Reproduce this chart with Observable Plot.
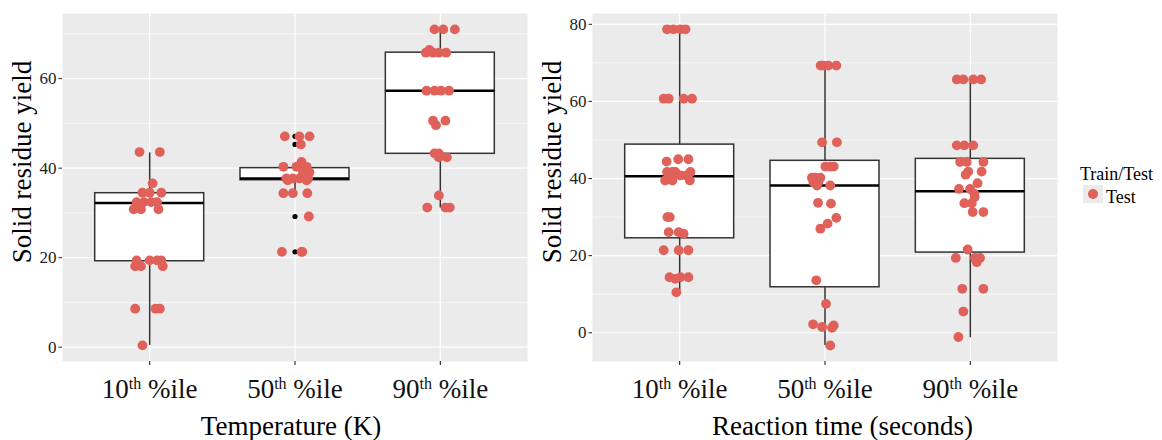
<!DOCTYPE html>
<html><head><meta charset="utf-8">
<script src="https://cdn.jsdelivr.net/npm/d3@7"></script>
<script src="https://cdn.jsdelivr.net/npm/@observablehq/plot@0.6"></script>
<style>
body{margin:0;background:#fff;}
#wrap{position:relative;width:1162px;height:440px;overflow:hidden;font-family:"Liberation Serif","Times New Roman",serif;color:#000;background:#fff;}
#wrap svg text{font-family:"Liberation Serif","Times New Roman",serif;}
.abs{position:absolute;white-space:nowrap;}
</style></head><body><div id="wrap"></div>
<script>
// ---------- DATA ----------
const categories = ["10th %ile", "50th %ile", "90th %ile"];
const yTitle = "Solid residue yield";
const xTitleTemp = "Temperature (K)";
const xTitleTime = "Reaction time (seconds)";
const legendTitle = "Train/Test";
const legendLabel = "Test";

// Temperature panel: test points (category index, horizontal jitter in category units, yield)
const tempCat = [0,0,0,0,0,0,0,0,0,0,0,0,0,0,0,0,0,0,0,0,0,0,0,0,
  1,1,1,1,1,1,1,1,1,1,1,1,1,1,1,1,1,1,1,1,1,1,1,
  2,2,2,2,2,2,2,2,2,2,2,2,2,2,2,2,2,2,2,2,2,2,2];
const tempJit = [-0.07,0.07,0.02,-0.05,0.0,0.08,-0.09,-0.04,0.01,0.05,-0.11,-0.06,0.06,-0.09,0.0,0.05,0.08,-0.1,-0.06,0.09,-0.1,0.04,0.07,-0.05,
  -0.07,0.03,0.10,0.04,0.045,-0.08,0.01,0.08,0.055,0.10,-0.06,-0.015,0.03,0.09,-0.05,0.08,-0.08,-0.015,0.085,0.095,-0.09,0.045,0.05,
  -0.04,0.02,0.10,-0.075,-0.1,-0.05,-0.01,0.04,-0.095,-0.04,0.005,0.06,-0.05,0.035,-0.03,-0.04,-0.01,-0.01,0.045,-0.01,-0.09,0.035,0.065];
const tempYield = [43.6,43.6,36.6,34.5,34.5,34.5,32.4,32.4,32.4,32.4,30.8,30.8,30.8,19.4,19.4,19.4,19.4,18.1,18.1,18.1,8.6,8.6,8.6,0.4,
  47.1,47.1,47.1,45.3,41.4,40.3,40.3,40.3,39.1,39.1,37.7,37.7,37.7,37.7,37.3,37.3,34.4,34.4,34.4,29.2,21.3,21.3,21.3,
  71.0,71.0,71.0,66.4,65.8,65.8,65.8,65.8,57.3,57.3,57.3,57.3,50.6,50.6,49.6,43.3,43.3,42.4,42.4,33.9,31.2,31.2,31.2];
// Temperature boxplot statistics
const tempLo  = [0.4, 35.0, 31.1];
const tempQ1  = [19.2, 37.3, 43.2];
const tempMed = [32.2, 37.7, 57.3];
const tempQ3  = [34.4, 40.0, 65.8];
const tempHi  = [43.4, 40.0, 71.0];
const tempOutCat = [1, 1, 1, 1];
const tempOutVal = [47.1, 45.3, 29.2, 21.3];

// Reaction-time panel
const timeCat = [0,0,0,0,0,0,0,0,0,0,0,0,0,0,0,0,0,0,0,0,0,0,0,0,0,0,0,0,0,0,0,0,0,0,
  1,1,1,1,1,1,1,1,1,1,1,1,1,1,1,1,1,1,1,1,1,1,1,1,1,1,1,1,
  2,2,2,2,2,2,2,2,2,2,2,2,2,2,2,2,2,2,2,2,2,2,2,2,2,2,2,2,2,2,2];
const timeJit = [-0.087,-0.043,0.005,0.04,-0.11,-0.076,0.027,0.085,-0.09,-0.01,0.06,-0.087,-0.05,-0.03,0.074,-0.065,0.005,0.045,-0.1,-0.05,0.07,-0.085,-0.068,-0.076,-0.007,0.027,-0.11,-0.007,0.06,-0.07,0.005,0.06,-0.03,-0.023,
  -0.03,-0.012,0.023,0.078,-0.02,0.082,0.002,0.036,0.06,-0.09,-0.067,-0.032,-0.08,-0.046,-0.055,0.036,-0.048,0.041,0.078,0.018,-0.032,-0.06,0.007,-0.082,-0.02,0.06,0.048,0.036,
  -0.093,-0.048,0.02,0.074,-0.093,-0.041,0.02,-0.07,-0.025,0.09,-0.014,0.078,-0.032,0.05,-0.078,-0.002,0.027,0.03,-0.041,0.01,0.016,0.09,-0.018,-0.1,0.032,0.067,0.044,-0.055,0.09,-0.048,-0.082];
const timeYield = [78.7,78.7,78.7,78.7,60.7,60.7,60.7,60.7,44.4,45.0,45.0,41.7,41.7,41.7,41.7,40.8,40.8,40.8,39.5,39.5,39.5,30.0,30.0,26.1,26.1,25.7,21.4,21.4,21.4,14.4,14.4,14.4,14.0,10.5,
  69.3,69.3,69.3,69.3,49.4,49.4,43.1,43.1,43.1,40.2,40.2,40.2,39.1,39.1,38.2,38.2,33.7,33.5,29.8,28.3,27.0,13.6,7.5,2.2,1.5,1.9,1.3,-3.3,
  65.7,65.7,65.7,65.7,48.6,48.6,48.6,44.3,44.3,44.3,41.8,41.8,41.0,38.8,37.3,37.3,36.1,35.2,33.6,33.6,31.3,31.3,21.6,19.4,19.4,19.4,18.3,11.4,11.4,5.5,-1.1];
const timeLo  = [10.5, -3.3, -1.3];
const timeQ1  = [24.5, 11.8, 20.8];
const timeMed = [40.6, 38.2, 36.7];
const timeQ3  = [48.8, 44.6, 45.1];
const timeHi  = [78.7, 69.3, 65.7];

const tempTicks = [0, 20, 40, 60];
const tempMinor = [10, 30, 50, 70];
const timeTicks = [0, 20, 40, 60, 80];
const timeMinor = [10, 30, 50, 70];

// ---------- DRAW ----------
const FONT = '"Liberation Serif","Times New Roman",serif';
const POINT = "#e0605a";
const wrap = document.getElementById("wrap");

function panel(o) {
  const pts = o.cat.map((c, i) => ({x: c + 1 + o.jit[i], y: o.val[i]}));
  const boxes = categories.map((k, i) => ({x: i + 1, lo: o.lo[i], q1: o.q1[i], med: o.med[i], q3: o.q3[i], hi: o.hi[i]}));
  const outs = (o.outCat || []).map((c, i) => ({x: c + 1, y: o.outVal[i]}));
  const svg = Plot.plot({
    width: o.width, height: 405,
    marginLeft: o.marginLeft, marginRight: 0, marginTop: 13, marginBottom: 44,
    x: {domain: [0.4, 3.6]},
    y: {domain: o.domain},
    style: {fontFamily: FONT, background: "transparent", overflow: "visible"},
    marks: [
      Plot.frame({fill: "#ebebeb", stroke: null}),
      Plot.gridY(o.minor, {stroke: "#fff", strokeOpacity: 1, strokeWidth: 0.6}),
      Plot.gridY(o.ticks, {stroke: "#fff", strokeOpacity: 1, strokeWidth: 1.2}),
      Plot.gridX([1, 2, 3], {stroke: "#fff", strokeOpacity: 1, strokeWidth: 1.2}),
      Plot.axisY(o.ticks, {tickSize: 3.5, tickPadding: 2.5, fontSize: 17, fontFamily: FONT, color: "#222", label: null}),
      Plot.axisX([1, 2, 3], {tickSize: 4, tickPadding: 13.8, fontSize: 27, fontFamily: FONT, color: "#111",
        tickFormat: d => categories[d - 1], label: null}),
      Plot.ruleX(boxes, {x: "x", y1: "q3", y2: "hi", stroke: "#333", strokeWidth: 1.5}),
      Plot.ruleX(boxes, {x: "x", y1: "lo", y2: "q1", stroke: "#333", strokeWidth: 1.5}),
      Plot.rect(boxes, {x1: d => d.x - 0.375, x2: d => d.x + 0.375, y1: "q1", y2: "q3",
        fill: "#fff", stroke: "#333", strokeWidth: 1.5}),
      Plot.ruleY(boxes, {y: "med", x1: d => d.x - 0.375, x2: d => d.x + 0.375, stroke: "#000", strokeWidth: 2.6}),
      Plot.dot(outs, {x: "x", y: "y", r: 2.6, fill: "#000"}),
      Plot.dot(pts, {x: "x", y: "y", r: 4.9, fill: POINT})
    ]
  });
  // superscript ordinal suffixes in tick labels
  d3.select(svg).selectAll('g[aria-label="x-axis tick label"] text').each(function () {
    const m = this.textContent.match(/^(\d+)(th)(.*)$/);
    if (!m) return;
    const s = d3.select(this);
    s.text(null);
    s.append("tspan").text(m[1]);
    s.append("tspan").attr("font-size", 16).attr("dy", -9).text(m[2]);
    s.append("tspan").attr("dy", 9).text(m[3]);
  });
  svg.style.position = "absolute";
  svg.style.left = o.left + "px";
  svg.style.top = "0px";
  wrap.appendChild(svg);
}

panel({cat: tempCat, jit: tempJit, val: tempYield, lo: tempLo, q1: tempQ1, med: tempMed, q3: tempQ3, hi: tempHi,
  outCat: tempOutCat, outVal: tempOutVal, domain: [-3.2, 74.55], ticks: tempTicks, minor: tempMinor,
  width: 527, marginLeft: 62, left: 0});
panel({cat: timeCat, jit: timeJit, val: timeYield, lo: timeLo, q1: timeQ1, med: timeMed, q3: timeQ3, hi: timeHi,
  domain: [-7.45, 82.8], ticks: timeTicks, minor: timeMinor,
  width: 530, marginLeft: 65, left: 527});

function addText(txt, css) {
  const d = document.createElement("div");
  d.className = "abs";
  d.textContent = txt;
  Object.assign(d.style, css);
  wrap.appendChild(d);
  return d;
}
// y titles (rotated)
for (const cx of [22, 552]) {
  addText(yTitle, {left: cx + "px", top: "162px", fontSize: "27px", lineHeight: "27px",
    transform: "translate(-50%,-50%) rotate(-90deg)"});
}
// x titles
addText(xTitleTemp, {left: "291px", top: "413.4px", fontSize: "27px", lineHeight: "27px", transform: "translateX(-50%)"});
addText(xTitleTime, {left: "842.5px", top: "413.4px", fontSize: "27px", lineHeight: "27px", transform: "translateX(-50%)"});
// legend
addText(legendTitle, {left: "1080px", top: "165px", fontSize: "18px", lineHeight: "18px"});
const key = document.createElement("div");
Object.assign(key.style, {position: "absolute", left: "1083px", top: "185px", width: "20px", height: "18px", background: "#ebebeb"});
const kd = document.createElement("div");
Object.assign(kd.style, {position: "absolute", left: "5px", top: "4px", width: "10px", height: "10px", borderRadius: "50%", background: POINT});
key.appendChild(kd);
wrap.appendChild(key);
addText(legendLabel, {left: "1106px", top: "188px", fontSize: "18px", lineHeight: "18px"});
</script></body></html>
